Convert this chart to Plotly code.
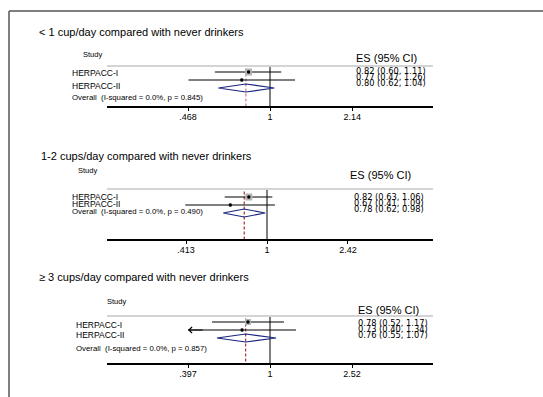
import math
import plotly.graph_objects as go

# ---------------- data ----------------
panel_titles = [
    "< 1 cup/day compared with never drinkers",
    "1-2 cups/day compared with never drinkers",
    "\u2265 3 cups/day compared with never drinkers",
]
studies = ["HERPACC-I", "HERPACC-II"]

es_p1 = [0.82, 0.77]
lo_p1 = [0.60, 0.47]
hi_p1 = [1.11, 1.26]
overall_p1 = [0.80, 0.62, 1.04]
het_p1 = "I-squared = 0.0%, p = 0.845"
clipped_p1 = [False, False]

es_p2 = [0.82, 0.67]
lo_p2 = [0.63, 0.41]
hi_p2 = [1.06, 1.09]
overall_p2 = [0.78, 0.62, 0.98]
het_p2 = "I-squared = 0.0%, p = 0.490"
clipped_p2 = [False, False]

es_p3 = [0.78, 0.73]
lo_p3 = [0.52, 0.40]
hi_p3 = [1.17, 1.34]
overall_p3 = [0.76, 0.55, 1.07]
het_p3 = "I-squared = 0.0%, p = 0.857"
clipped_p3 = [False, True]

tick_vals_p1 = [0.468, 1, 2.14]
tick_vals_p2 = [0.413, 1, 2.42]
tick_vals_p3 = [0.397, 1, 2.52]
tick_text_p1 = [".468", "1", "2.14"]
tick_text_p2 = [".413", "1", "2.42"]
tick_text_p3 = [".397", "1", "2.52"]

panels_data = [
    (es_p1, lo_p1, hi_p1, overall_p1, het_p1, clipped_p1, tick_vals_p1, tick_text_p1),
    (es_p2, lo_p2, hi_p2, overall_p2, het_p2, clipped_p2, tick_vals_p2, tick_text_p2),
    (es_p3, lo_p3, hi_p3, overall_p3, het_p3, clipped_p3, tick_vals_p3, tick_text_p3),
]

# ---------------- layout (pixels) ----------------
W, H = 543, 397
AX_L, AX_R = 107, 433
ROW_PX = 8
layout_px = [
    dict(title=(38, 32), study=(82, 54), hdr=(355, 58), gray=66, axis=106,
         row0=72, text_x=71, text_y=[73, 86, 98], val_x=355, val_y=[71, 77, 83],
         center=270, half=82, red="#cc8080", box=[7, 3]),
    dict(title=(40, 156), study=(77, 171), hdr=(349, 175), gray=189, axis=239,
         row0=197, text_x=71, text_y=[197, 204, 211], val_x=353, val_y=[196.5, 202.5, 208.5],
         center=267, half=81, red="#b03030", box=[7, 3]),
    dict(title=(38, 277), study=(106, 301), hdr=(357, 310), gray=316, axis=363,
         row0=322, text_x=75, text_y=[325, 335, 348], val_x=357, val_y=[322.5, 328.5, 334.5],
         center=270, half=82, red="#b03030", box=[6, 3]),
]

FONT = "Liberation Sans, Arial, sans-serif"
VFONT = "DejaVu Sans, sans-serif"


def px(x):
    return x / W


def py(y):
    return 1 - y / H


fig = go.Figure()
annotations = []
shapes = []

for i, ((es, lo, hi, ov, het, clip, tv, tt), L) in enumerate(zip(panels_data, layout_px)):
    n = i + 1
    xa = "x" if n == 1 else f"x{n}"
    ya = "y" if n == 1 else f"y{n}"
    k = L["half"] / math.log(1 / tv[0])  # px per ln unit
    ln_lo = (AX_L - L["center"]) / k
    ln_hi = (AX_R - L["center"]) / k
    r_top = 1 + (L["gray"] - L["row0"]) / ROW_PX
    r_bot = 1 + (L["axis"] - L["row0"]) / ROW_PX

    fig.layout[f"xaxis{'' if n == 1 else n}"] = dict(
        type="log", domain=[px(AX_L), px(AX_R)],
        range=[ln_lo / math.log(10), ln_hi / math.log(10)],
        anchor=ya, showgrid=False, zeroline=False,
        showline=True, linecolor="black", linewidth=1.5,
        ticks="outside", ticklen=3, tickwidth=1, tickcolor="black",
        tickvals=tv, ticktext=tt, ticklabelstandoff=-2,
        tickfont=dict(family=FONT, size=9, color="black"),
    )
    fig.layout[f"yaxis{'' if n == 1 else n}"] = dict(
        domain=[py(L["axis"]), py(L["gray"])], range=[r_bot, r_top],
        anchor=xa, visible=False, showgrid=False, zeroline=False,
    )

    rows = list(range(1, len(studies) + 1))
    ov_row = len(studies) + 1

    # null line at 1
    fig.add_trace(go.Scatter(x=[1, 1], y=[r_top, r_bot], mode="lines",
                             line=dict(color="black", width=1),
                             xaxis=xa, yaxis=ya, hoverinfo="skip", showlegend=False))
    # overall dashed line
    fig.add_trace(go.Scatter(x=[ov[0], ov[0]], y=[r_top + 0.3, r_bot], mode="lines",
                             line=dict(color=L["red"], width=1.2, dash="3px,2px"),
                             xaxis=xa, yaxis=ya, hoverinfo="skip", showlegend=False))
    # header gray line
    shapes.append(dict(type="line", xref=f"{xa} domain", yref=f"{ya} domain",
                       x0=0, x1=1, y0=1, y1=1, line=dict(color="#d4d4d4", width=2)))

    for j, r in enumerate(rows):
        x0 = tv[0] if clip[j] else lo[j]
        fig.add_trace(go.Scatter(x=[x0, hi[j]], y=[r, r], mode="lines",
                                 line=dict(color="black", width=1),
                                 xaxis=xa, yaxis=ya, hoverinfo="skip", showlegend=False))
        if clip[j]:
            annotations.append(dict(
                x=math.log10(x0), y=r, xref=xa, yref=ya,
                ax=math.log10(x0 * 1.2), ay=r, axref=xa, ayref=ya,
                showarrow=True, arrowhead=4, arrowsize=1.2, arrowwidth=1,
                arrowcolor="black", text="", standoff=0))
        # weight box
        fig.add_trace(go.Scatter(x=[es[j]], y=[r], mode="markers",
                                 marker=dict(symbol="square", size=L["box"][j], color="#b4b4b4",
                                             line=dict(width=0)),
                                 xaxis=xa, yaxis=ya, hoverinfo="skip", showlegend=False))
        fig.add_trace(go.Scatter(x=[es[j]], y=[r], mode="markers",
                                 marker=dict(symbol="circle", size=3.5, color="black"),
                                 xaxis=xa, yaxis=ya, hoverinfo="skip", showlegend=False))

    # diamond
    dh = 0.5
    fig.add_trace(go.Scatter(x=[ov[1], ov[0], ov[2], ov[0], ov[1]],
                             y=[ov_row, ov_row - dh, ov_row, ov_row + dh, ov_row],
                             mode="lines", line=dict(color="#1a2480", width=1.2),
                             xaxis=xa, yaxis=ya, hoverinfo="skip", showlegend=False))

    # texts
    def txt(x, y, s, size, fam=FONT):
        annotations.append(dict(x=px(x), y=py(y), xref="paper", yref="paper",
                                text=s, showarrow=False, xanchor="left", yanchor="middle",
                                font=dict(family=fam, size=size, color="black"),
                                borderpad=0))

    txt(L["title"][0], L["title"][1], panel_titles[i], 11)
    txt(L["study"][0], L["study"][1], "Study", 7.5)
    txt(L["hdr"][0], L["hdr"][1], "ES (95% CI)", 11)
    for j, s in enumerate(studies):
        txt(L["text_x"], L["text_y"][j], s, 8.5)
    txt(L["text_x"], L["text_y"][-1], f"Overall  ({het})", 7.8)
    vals = [(es[j], lo[j], hi[j]) for j in range(len(studies))] + [tuple(ov)]
    for j, (e, l, h) in enumerate(vals):
        txt(L["val_x"], L["val_y"][j], f"{e:.2f} ({l:.2f}, {h:.2f})", 8.3, VFONT)

# outer border (cropped frame)
shapes.append(dict(type="line", xref="paper", yref="paper", x0=px(9), x1=px(9),
                   y0=py(11), y1=py(H + 5), line=dict(color="#555555", width=1.5)))
shapes.append(dict(type="line", xref="paper", yref="paper", x0=px(9), x1=px(W + 5),
                   y0=py(11), y1=py(11), line=dict(color="#555555", width=1.5)))

fig.update_layout(
    width=W, height=H, margin=dict(l=0, r=0, t=0, b=0),
    paper_bgcolor="white", plot_bgcolor="white",
    showlegend=False, annotations=annotations, shapes=shapes,
)

fig.write_html("out.html")
